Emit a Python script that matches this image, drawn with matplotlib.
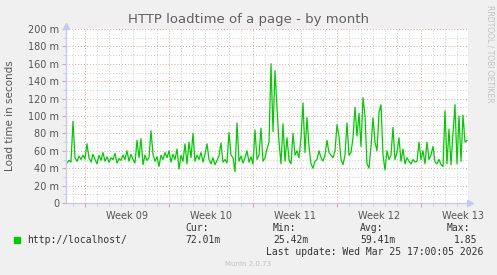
import numpy as np
import matplotlib
matplotlib.use("Agg")
import matplotlib.pyplot as plt
from matplotlib.ticker import MultipleLocator, FixedLocator

# load time in milliseconds, one sample every 4 hours, from 1.5 days before Week 09
load_ms = [
    46, 49, 47, 94, 52, 48, 54, 50, 55, 51,
    68, 52, 47, 56, 50, 45, 55, 49, 58, 48,
    53, 47, 52, 50, 57, 46, 51, 49, 55, 50,
    60, 48, 56, 50, 46, 72, 52, 74, 44, 55,
    49, 52, 83, 56, 48, 53, 42, 55, 50, 58,
    52, 60, 47, 56, 50, 62, 39, 55, 48, 68,
    45, 70, 52, 80, 48, 55, 50, 58, 47, 56,
    68, 50, 45, 52, 44, 49, 54, 69, 47, 50,
    46, 81, 55, 52, 36, 92, 48, 54, 46, 52,
    60, 47, 53, 45, 84, 50, 55, 86, 48, 52,
    62, 70, 160, 82, 152, 109, 70, 45, 91, 48,
    75, 50, 45, 80, 55, 60, 52, 75, 115, 58,
    98, 65, 45, 40, 48, 50, 60, 52, 48, 55,
    72, 58, 55, 52, 60, 90, 77, 50, 44, 55,
    92, 55, 58, 75, 110, 77, 103, 65, 121, 100,
    45, 40, 65, 98, 70, 60, 104, 113, 55, 38,
    60, 50, 55, 87, 50, 58, 75, 48, 62, 45,
    52, 48, 45, 50, 47, 48, 70, 50, 60, 45,
    70, 50, 55, 65, 47, 45, 50, 44, 42, 106,
    45, 85, 44, 80, 113, 45, 100, 48, 101, 70, 72,
]
start_day = -1.5
step_day = 4 / 24
days = start_day + step_day * np.arange(len(load_ms))

week_starts = [0, 7, 14, 21, 28]
week_labels = ["Week 09", "Week 10", "Week 11", "Week 12", "Week 13"]
y_ticks = [0, 20, 40, 60, 80, 100, 120, 140, 160, 180, 200]
y_labels = ["0", "20 m", "40 m", "60 m", "80 m", "100 m", "120 m",
            "140 m", "160 m", "180 m", "200 m"]

legend_name = "http://localhost/"
stats = [("Cur:", "72.01m"), ("Min:", "25.42m"), ("Avg:", "59.41m"), ("Max:", "1.85")]

W, H = 497, 275
fig = plt.figure(figsize=(W / 100, H / 100), dpi=100, facecolor="#f0f0f0")
x0, x1, ytop, ybot = 66, 468, 29, 203
ax = fig.add_axes([x0 / W, 1 - ybot / H, (x1 - x0) / W, (ybot - ytop) / H])
ax.set_facecolor("white")

ax.plot(days, load_ms, color="#00cc00", lw=0.9)

ax.set_xlim((x0 - 85) / 12, (x1 - 85) / 12)
ax.set_ylim(0, 200)

# grid
ax.xaxis.set_major_locator(FixedLocator(week_starts))
ax.xaxis.set_minor_locator(MultipleLocator(1))
ax.yaxis.set_major_locator(FixedLocator(y_ticks))
ax.yaxis.set_minor_locator(MultipleLocator(10))
ax.grid(which="minor", color="#cfcfcf", ls=(0, (1, 2)), lw=0.7)
ax.grid(which="major", color="#e8a0a0", ls=(0, (1, 2)), lw=0.7)
ax.set_axisbelow(True)

ax.set_yticklabels(y_labels)
ax.set_xticklabels([])
ax.tick_params(axis="y", which="major", length=3, color="#e8a0a0", labelsize=7,
               labelcolor="#555555", pad=2)
ax.tick_params(axis="y", which="minor", length=2, color="#cccccc")
ax.tick_params(axis="x", which="major", length=3, color="#e8a0a0")
ax.tick_params(axis="x", which="minor", length=2, color="#cccccc")
for w, lab in zip(week_starts, week_labels):
    ax.text(w + 3.5, -9, lab, ha="center", va="top", fontsize=7, color="#555555",
            clip_on=False)

for s in ["top", "right"]:
    ax.spines[s].set_visible(False)
for s in ["left", "bottom"]:
    ax.spines[s].set_color("#c8c8f0")
    ax.spines[s].set_linewidth(1.0)
ax.plot([0], [1.02], marker="^", ms=4, color="#c8c8f0", transform=ax.transAxes,
        clip_on=False)
ax.plot([1.005], [0], marker=">", ms=4, color="#c8c8f0", transform=ax.transAxes,
        clip_on=False)

fig.text(248 / W, 1 - 20 / H, "HTTP loadtime of a page - by month", ha="center",
         va="center", fontsize=9.5, color="#606060")
fig.text(10 / W, 1 - 116 / H, "Load time in seconds", rotation=90, ha="center",
         va="center", fontsize=7.5, color="#555555")
fig.text(490 / W, 1 - 5 / H, "RRDTOOL / TOBI OETIKER", rotation=270, ha="center",
         va="top", fontsize=5.5, color="#c0c0c0")

mono = "DejaVu Sans Mono"
fig.patches.append(plt.Rectangle((14 / W, 1 - 243 / H), 6 / W, 6 / H,
                                 transform=fig.transFigure, color="#00cc00"))
fig.text(27 / W, 1 - 240 / H, legend_name, family=mono, fontsize=7, color="#333333",
         va="center")
for (head, val), xs in zip(stats, [185, 273, 360, 447]):
    fig.text(xs / W, 1 - 228 / H, head, family=mono, fontsize=7, color="#333333",
             va="center")
    if head == "Max:":
        fig.text(477 / W, 1 - 240 / H, val, family=mono, fontsize=7, color="#333333",
                 va="center", ha="right")
    else:
        fig.text(xs / W, 1 - 240 / H, val, family=mono, fontsize=7, color="#333333",
                 va="center")
fig.text(483 / W, 1 - 252 / H, "Last update: Wed Mar 25 17:00:05 2026", family=mono,
         fontsize=7, color="#333333", va="center", ha="right")
fig.text(248 / W, 1 - 264 / H, "Munin 2.0.73", fontsize=5, color="#c0c0c0",
         ha="center", va="center")

fig.savefig("out.png", dpi=100, facecolor=fig.get_facecolor())
